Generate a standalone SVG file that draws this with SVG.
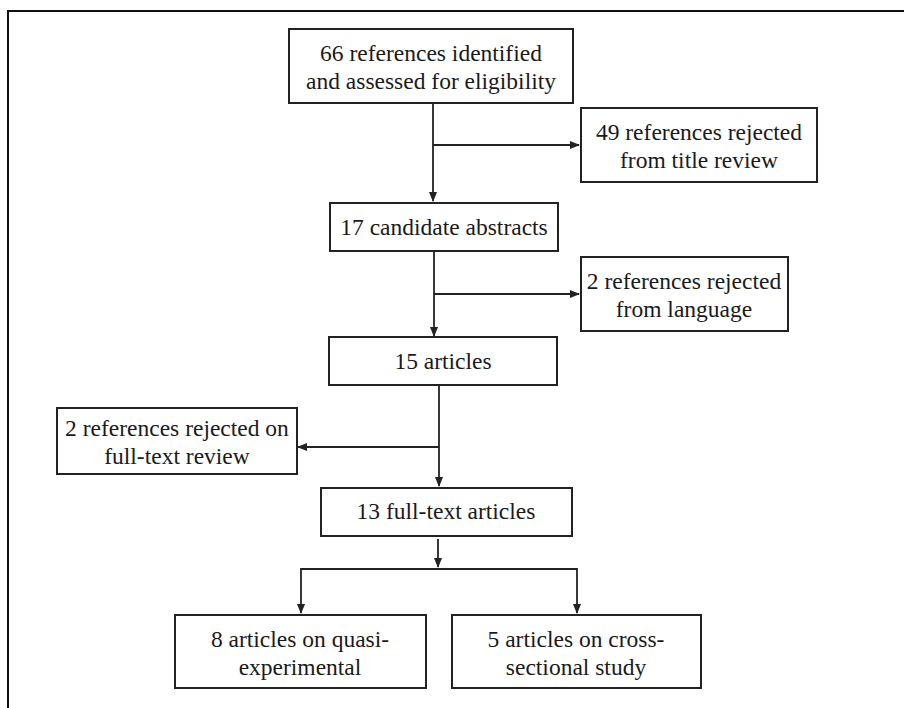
<svg xmlns="http://www.w3.org/2000/svg" width="904" height="708" viewBox="0 0 904 708">
<style>
.box{fill:#fff;stroke:#222;stroke-width:2}
.t{font-family:'Liberation Serif','Times New Roman',Times,'DejaVu Serif',serif;font-size:23.5px;fill:#1a1a1a;text-anchor:middle}
.ln{fill:none;stroke:#222;stroke-width:1.8}
.frame{fill:none;stroke:#111;stroke-width:2}
</style>
<defs>
<marker id="ah" markerWidth="10" markerHeight="8" refX="9" refY="4" orient="auto" markerUnits="userSpaceOnUse">
<path d="M0,0 L10,4 L0,8 Z" fill="#222"/>
</marker>
</defs>
<rect width="904" height="708" fill="#fff"/>
<path class="frame" d="M8,708 V11 H904"/>
<g id="connectors">
<path class="ln" d="M433,103 V201" marker-end="url(#ah)"/>
<path class="ln" d="M433,145 H579" marker-end="url(#ah)"/>
<path class="ln" d="M434,251 V336" marker-end="url(#ah)"/>
<path class="ln" d="M434,294 H579" marker-end="url(#ah)"/>
<path class="ln" d="M439,385 V486" marker-end="url(#ah)"/>
<path class="ln" d="M439,447 H298" marker-end="url(#ah)"/>
<path class="ln" d="M438,539 V567" marker-end="url(#ah)"/>
<path class="ln" d="M301,569 H577"/>
<path class="ln" d="M301,568 V613" marker-end="url(#ah)"/>
<path class="ln" d="M577,568 V613" marker-end="url(#ah)"/>
</g>
<g id="n1"><rect class="box" x="289" y="29" width="284" height="74"/>
<text class="t" x="431" y="61" font-family="Liberation Serif, serif">66 references identified</text>
<text class="t" x="431" y="89" font-family="Liberation Serif, serif">and assessed for eligibility</text></g>
<g id="n2"><rect class="box" x="581" y="108" width="236" height="74"/>
<text class="t" x="699" y="140" font-family="Liberation Serif, serif">49 references rejected</text>
<text class="t" x="699" y="168" font-family="Liberation Serif, serif">from title review</text></g>
<g id="n3"><rect class="box" x="330" y="203" width="228" height="48"/>
<text class="t" x="444" y="235" font-family="Liberation Serif, serif">17 candidate abstracts</text></g>
<g id="n4"><rect class="box" x="581" y="257" width="207" height="74"/>
<text class="t" x="684" y="289" font-family="Liberation Serif, serif">2 references rejected</text>
<text class="t" x="684" y="317" font-family="Liberation Serif, serif">from language</text></g>
<g id="n5"><rect class="box" x="329" y="337" width="228" height="48"/>
<text class="t" x="443" y="369" font-family="Liberation Serif, serif">15 articles</text></g>
<g id="n6"><rect class="box" x="57" y="408" width="240" height="66"/>
<text class="t" x="177" y="436" font-family="Liberation Serif, serif">2 references rejected on</text>
<text class="t" x="177" y="464" font-family="Liberation Serif, serif">full-text review</text></g>
<g id="n7"><rect class="box" x="321" y="488" width="251" height="48"/>
<text class="t" x="446" y="519" font-family="Liberation Serif, serif">13 full-text articles</text></g>
<g id="n8"><rect class="box" x="175" y="615" width="251" height="73"/>
<text class="t" x="300" y="647" font-family="Liberation Serif, serif">8 articles on quasi-</text>
<text class="t" x="300" y="675" font-family="Liberation Serif, serif">experimental</text></g>
<g id="n9"><rect class="box" x="452" y="615" width="249" height="73"/>
<text class="t" x="576" y="647" font-family="Liberation Serif, serif">5 articles on cross-</text>
<text class="t" x="576" y="675" font-family="Liberation Serif, serif">sectional study</text></g>
</svg>
